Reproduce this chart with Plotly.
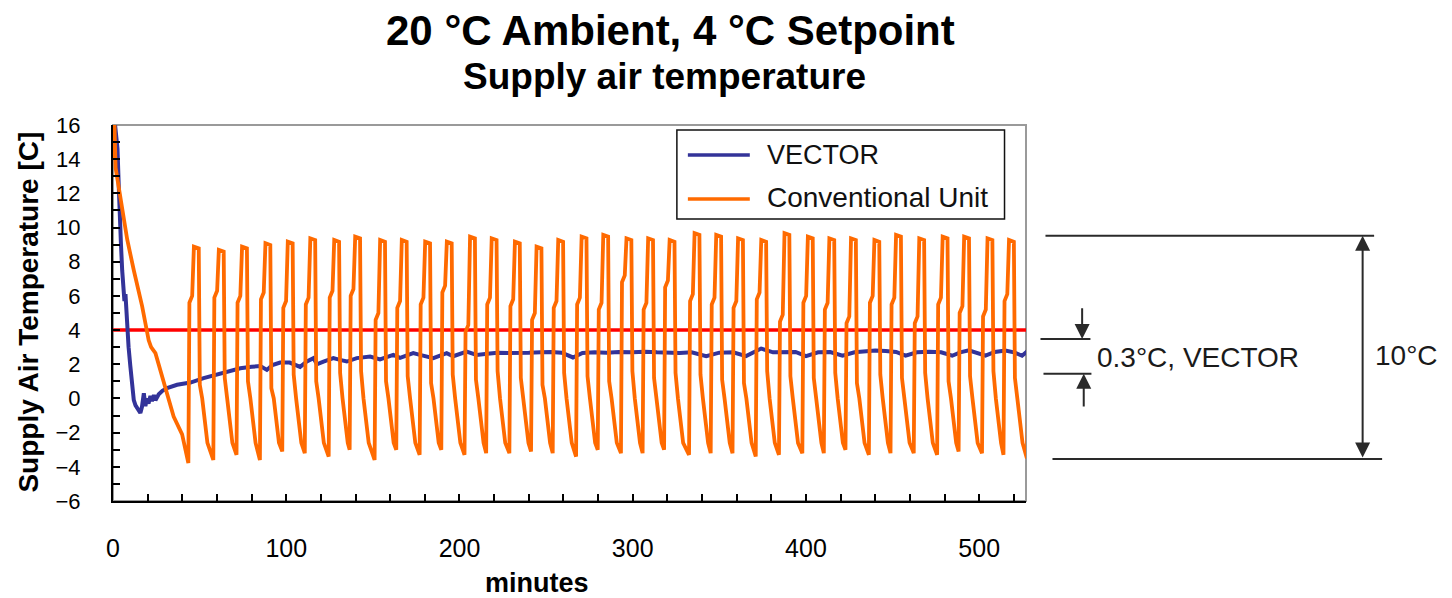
import plotly.graph_objects as go

# ------------------------------------------------------------------ data
setpoint = 4.0
x_max = 527

vector_t = [0.8, 1.6, 2.6, 3.4, 3.8, 4.6, 5.3, 5.9, 6.6, 7.2, 7.6, 8.2, 9.0, 10.0, 11.0, 12.0,
            13.0, 14.9, 15.8, 16.7, 17.5, 17.8, 18.7, 19.6, 20.5, 21.6, 22.5, 23.6, 24.5, 26.4,
            28.5, 31.2, 37.0, 44.7, 52.3, 60.0, 67.0, 73.5, 80.0, 85.0, 88.8, 92.0, 96.5, 102.0,
            108.0, 111.9, 115.7, 117.7, 121.5, 127.2, 131.0, 135.0, 140.7, 148.4, 154.1, 161.8,
            165.7, 173.3, 177.2, 184.9, 192.6, 196.4, 204.1, 209.9, 216.0, 222.0, 228.0, 234.0,
            240.0, 247.0, 253.0, 259.0, 265.5, 271.0, 278.0, 285.0, 292.0, 300.0, 307.0, 314.0,
            321.0, 327.0, 334.0, 342.4, 350.0, 358.0, 365.4, 374.1, 381.0, 388.0, 394.0, 400.0,
            407.0, 414.0, 421.1, 428.0, 434.0, 440.0, 446.0, 452.0, 457.5, 464.0, 471.0, 478.0,
            484.4, 489.0, 494.0, 499.0, 503.6, 509.0, 515.1, 520.0, 524.7, 528.5]
vector_v = [16.4, 15.6, 14.6, 12.2, 10.4, 9.0, 7.5, 6.1, 5.7, 6.1, 5.4, 4.0, 3.0, 1.9, 0.8, -0.1,
            -0.4, -0.65, -0.85, -0.5, -0.1, 0.3, -0.45, 0.0, -0.3, 0.15, -0.15, 0.2, -0.1, 0.25,
            0.45, 0.6, 0.8, 0.93, 1.19, 1.38, 1.55, 1.77, 1.85, 1.9, 1.67, 1.95, 2.1, 2.1,
            1.85, 2.16, 2.36, 2.0, 2.16, 2.36, 2.26, 2.16, 2.36, 2.45, 2.28, 2.55,
            2.38, 2.65, 2.55, 2.36, 2.65, 2.47, 2.74, 2.55, 2.62, 2.68, 2.66, 2.64,
            2.67, 2.7, 2.72, 2.68, 2.4, 2.66, 2.7, 2.68, 2.72, 2.7, 2.74, 2.7,
            2.68, 2.66, 2.7, 2.48, 2.68, 2.7, 2.48, 2.92, 2.7, 2.68, 2.72, 2.48,
            2.7, 2.72, 2.5, 2.7, 2.75, 2.8, 2.78, 2.72, 2.5, 2.7, 2.74, 2.7,
            2.5, 2.7, 2.82, 2.68, 2.5, 2.72, 2.8, 2.7, 2.5, 2.82]

# conventional unit: initial pull-down
conv_init_t = [0.0, 0.7, 1.5, 4.3, 8.2, 12.0, 16.8, 20.6, 22.0, 24.5, 30.3, 35.0, 39.9, 42.0]
conv_init_v = [14.0, 16.6, 13.5, 11.6, 9.3, 7.5, 5.4, 3.4, 3.0, 2.65, 0.7, -1.06, -2.1, -3.0]

# conventional unit: on/off cycles (read per cycle)
conv_peak_t = [48.5, 62.9, 76.3, 89.8, 102.7, 115.7, 129.5, 141.6, 156.0, 168.5, 182.0, 194.5,
               207.9, 220.4, 233.8, 246.3, 258.8, 272.3, 284.8, 298.2, 310.7, 323.1, 337.5,
               350.0, 362.6, 376.0, 389.4, 402.9, 415.3, 427.8, 441.3, 453.8, 467.2, 480.7,
               493.1, 506.6, 519.0]
conv_peak_v = [8.88, 8.69, 8.88, 9.08, 9.18, 9.37, 9.27, 9.47, 9.27, 9.27, 9.18, 9.18, 9.47,
               9.37, 9.18, 8.88, 9.27, 9.47, 9.57, 9.37, 9.37, 9.27, 9.67, 9.57, 9.37, 9.27,
               9.67, 9.47, 9.37, 9.37, 9.27, 9.57, 9.37, 9.47, 9.47, 9.37, 9.27]
conv_trough_v = [-3.78, -3.6, -3.3, -3.6, -3.1, -3.2, -3.4, -3.0, -3.6, -3.0, -3.3, -3.0, -3.3,
                 -3.2, -3.2, -3.1, -3.2, -3.4, -3.0, -3.2, -3.2, -3.0, -3.3, -3.2, -3.2, -3.4,
                 -3.3, -3.2, -3.2, -3.0, -3.3, -3.2, -3.2, -3.3, -3.1, -3.2, -3.3]
conv_shoulder_v = [5.6, 5.9, 5.6, 5.8, 5.3, 5.5, 5.9, 6.0, 4.6, 5.3, 5.5, 6.2, 3.9, 5.5, 5.4,
                   4.6, 5.3, 5.5, 5.2, 6.8, 5.2, 6.5, 5.7, 5.5, 5.3, 5.8, 4.5, 5.6, 5.2, 4.4,
                   5.6, 5.5, 4.4, 5.5, 5.0, 4.8, 5.7]
conv_drop_v = [0.8, 1.2, 1.0, 0.6, 1.4, 1.0, 1.5, 1.6, 1.0, 1.3, 0.9, 1.4, 1.1, 1.6, 1.2, 0.8,
               1.5, 1.3, 1.0, 1.6, 1.2, 1.5, 1.4, 1.1, 0.9, 1.6, 1.3, 1.2, 1.5, 0.9, 1.4, 1.2,
               1.5, 1.0, 1.3, 1.6, 1.2]
conv_decline_v = [0.0, -1.3, -2.6]
conv_end_t = [527.5, 530.0]
conv_end_v = [-3.5, 7.3]

# shape of one cycle: time offsets (minutes) from the peak centre
cyc_off = [-5.0, -4.4, -2.8, -1.8, 1.0, 1.6]
decl_off = [3.0, 4.5, 6.0]

conv_t = list(conv_init_t)
conv_v = list(conv_init_v)
for i, p in enumerate(conv_peak_t):
    vals = [conv_trough_v[i], conv_shoulder_v[i], conv_shoulder_v[i] + 0.4,
            conv_peak_v[i], conv_peak_v[i] - 0.1, conv_drop_v[i]]
    conv_t += [p + o for o in cyc_off] + [p + o for o in decl_off]
    conv_v += vals + conv_decline_v
conv_t += conv_end_t
conv_v += conv_end_v

# ------------------------------------------------------------------ layout geometry
W, H = 1452, 598
ML, MR, MT, MB = 112.5, 425.5, 125, 97
PW, PH = W - ML - MR, H - MT - MB


def px(X):
    """page x pixel -> paper x"""
    return (X - ML) / PW


def py(Y):
    """page y pixel -> paper y"""
    return (H - MB - Y) / PH


FONT = "Liberation Sans, Arial, sans-serif"
BLUE, ORANGE, RED = "#333399", "#ff6a00", "#ff0000"

fig = go.Figure()
fig.add_trace(go.Scatter(x=[0, x_max], y=[setpoint, setpoint], mode="lines",
                         line=dict(color=RED, width=3.5), name="Setpoint",
                         showlegend=False, hoverinfo="skip"))
fig.add_trace(go.Scatter(x=vector_t, y=vector_v, mode="lines",
                         line=dict(color=BLUE, width=4), name="VECTOR",
                         showlegend=False))
fig.add_trace(go.Scatter(x=conv_t, y=conv_v, mode="lines",
                         line=dict(color=ORANGE, width=3.8), name="Conventional Unit",
                         showlegend=False))

shapes = []
annotations = []

# gray plot frame
shapes.append(dict(type="rect", xref="paper", yref="paper", x0=0, x1=1, y0=0, y1=1,
                   line=dict(color="#9a9a9a", width=2), layer="below"))

# legend box
shapes.append(dict(type="rect", xref="paper", yref="paper", x0=px(677), x1=px(1005),
                   y0=py(219), y1=py(130), line=dict(color="#111111", width=1.5),
                   fillcolor="white", layer="above"))
shapes.append(dict(type="line", xref="paper", yref="paper", x0=px(688), x1=px(750),
                   y0=py(155), y1=py(155), line=dict(color=BLUE, width=3.5)))
shapes.append(dict(type="line", xref="paper", yref="paper", x0=px(688), x1=px(750),
                   y0=py(199), y1=py(199), line=dict(color=ORANGE, width=3.5)))
annotations.append(dict(text="VECTOR", xref="paper", yref="paper", x=px(765), y=py(155),
                        xanchor="left", yanchor="middle", showarrow=False,
                        font=dict(family=FONT, size=27, color="#111111")))
annotations.append(dict(text="Conventional Unit", xref="paper", yref="paper", x=px(765),
                        y=py(197), xanchor="left", yanchor="middle", showarrow=False,
                        font=dict(family=FONT, size=28, color="#111111")))

# titles
annotations.append(dict(text="<b>20 °C Ambient, 4 °C Setpoint</b>", xref="paper", yref="paper",
                        x=px(671), y=py(30), xanchor="center", yanchor="middle",
                        showarrow=False, font=dict(family=FONT, size=42, color="black")))
annotations.append(dict(text="<b>Supply air temperature</b>", xref="paper", yref="paper",
                        x=px(665), y=py(76), xanchor="center", yanchor="middle",
                        showarrow=False, font=dict(family=FONT, size=37, color="black")))
annotations.append(dict(text="<b>Supply Air Temperature [C]</b>", xref="paper", yref="paper",
                        x=px(27), y=py(312), xanchor="center", yanchor="middle",
                        textangle=-90, showarrow=False,
                        font=dict(family=FONT, size=28, color="black")))
annotations.append(dict(text="<b>minutes</b>", xref="paper", yref="paper",
                        x=px(537), y=py(583), xanchor="center", yanchor="middle",
                        showarrow=False, font=dict(family=FONT, size=27, color="black")))

# right-hand dimension marks
DIM = "#2a2a2a"
for (xa, xb, yy) in [(1046, 1375, 235.7), (1053, 1383, 459), (1041, 1091, 339), (1044, 1092, 373.7)]:
    shapes.append(dict(type="line", xref="paper", yref="paper", x0=px(xa), x1=px(xb),
                       y0=py(yy), y1=py(yy), line=dict(color=DIM, width=2)))
annotations.append(dict(text="", xref="paper", yref="paper", x=px(1363.5), y=py(235.7),
                        ax=0, ay=459 - 235.7, showarrow=True, arrowhead=2, startarrowhead=2,
                        arrowside="end+start", arrowsize=1.5, startarrowsize=1.5,
                        arrowwidth=2, arrowcolor=DIM))
annotations.append(dict(text="", xref="paper", yref="paper", x=px(1082.7), y=py(339),
                        ax=0, ay=-(339 - 306.7), showarrow=True, arrowhead=2,
                        arrowsize=1.5, arrowwidth=2, arrowcolor=DIM))
annotations.append(dict(text="", xref="paper", yref="paper", x=px(1084.3), y=py(373.7),
                        ax=0, ay=408 - 373.7, showarrow=True, arrowhead=2,
                        arrowsize=1.5, arrowwidth=2, arrowcolor=DIM))
annotations.append(dict(text="0.3°C, VECTOR", xref="paper", yref="paper", x=px(1096),
                        y=py(357), xanchor="left", yanchor="middle", showarrow=False,
                        font=dict(family=FONT, size=28, color="#1a1a1a")))
annotations.append(dict(text="10°C", xref="paper", yref="paper", x=px(1374),
                        y=py(355), xanchor="left", yanchor="middle", showarrow=False,
                        font=dict(family=FONT, size=28, color="#1a1a1a")))

fig.update_layout(
    width=W, height=H,
    margin=dict(l=ML, r=MR, t=MT, b=MB, autoexpand=False),
    paper_bgcolor="white", plot_bgcolor="white",
    showlegend=False,
    font=dict(family=FONT, color="black"),
    shapes=shapes, annotations=annotations,
    xaxis=dict(range=[0, x_max], tickmode="array", tickvals=[0, 100, 200, 300, 400, 500],
               showgrid=False, zeroline=False, showline=True, linecolor="black", linewidth=2,
               ticks="inside", ticklen=7, tickwidth=1.5, tickcolor="black",
               minor=dict(dtick=20, ticks="inside", ticklen=7, tickwidth=1.5, tickcolor="black",
                          showgrid=False),
               tickfont=dict(family=FONT, size=25, color="black"),
               ticklabelstandoff=24),
    yaxis=dict(range=[-6, 16], dtick=2, tick0=0,
               showgrid=False, zeroline=False, showline=True, linecolor="black", linewidth=2,
               ticks="inside", ticklen=7, tickwidth=1.5, tickcolor="black",
               minor=dict(dtick=1, ticks="inside", ticklen=7, tickwidth=1.5, tickcolor="black",
                          showgrid=False),
               tickfont=dict(family=FONT, size=22, color="black"),
               ticklabelstandoff=26),
)

# remove the browser's default 8px page margin so the figure fills the window exactly
fig.write_html("out.html",
               config={"displayModeBar": False},
               post_script="document.body.style.margin='0px';document.body.style.overflow='hidden';")
